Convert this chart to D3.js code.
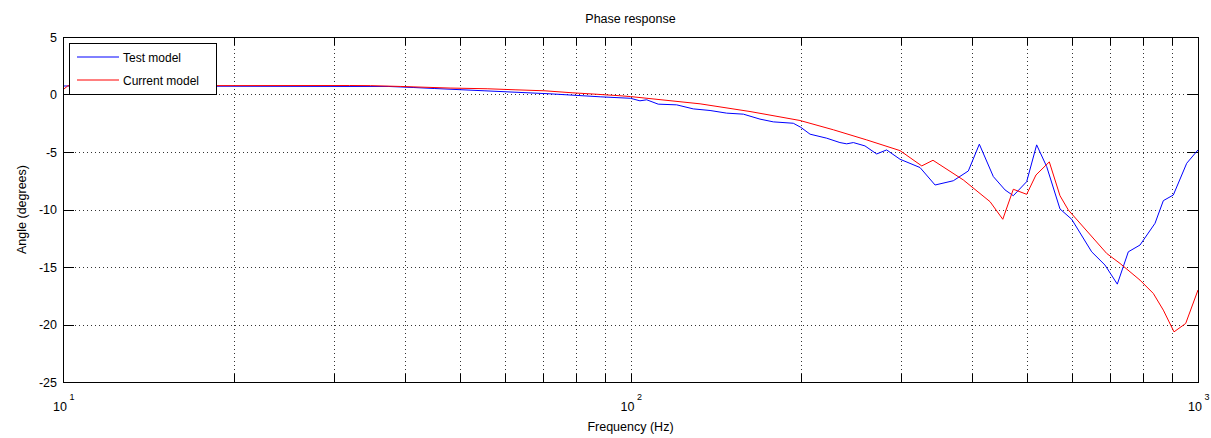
<!DOCTYPE html>
<html>
<head>
<meta charset="utf-8">
<script src="https://cdn.jsdelivr.net/npm/d3@7"></script>
<style>
  body { margin: 0; background: #fff; }
  svg { display: block; font-family: "Liberation Sans", Arial, sans-serif; }
</style>
</head>
<body>
<div id="chart"></div>
<script>
// frequencies (Hz) and phase (degrees)
const testFreq = [10, 32.7, 37.4, 41.4, 45.2, 55.4, 72.1, 88.4, 100, 103.9, 106.8, 111.9, 120.6, 129, 138.1, 147.7, 158.1, 169.1, 178.5, 193.6, 199.5, 207.2, 221.7, 233.9, 240.4, 247, 258.9, 271.5, 282.7, 298.5, 323.7, 344.1, 370.5, 393.8, 411.8, 435.9, 457.1, 472.7, 499, 519.6, 541.2, 571.2, 599, 649.6, 685.6, 720.8, 753.7, 790.3, 840, 868.8, 904.7, 955.2, 1000];
const testPhase = [0.74, 0.70, 0.70, 0.61, 0.52, 0.32, 0.06, -0.2, -0.33, -0.55, -0.46, -0.84, -0.9, -1.25, -1.39, -1.62, -1.71, -2.14, -2.38, -2.5, -2.85, -3.45, -3.8, -4.18, -4.29, -4.18, -4.47, -5.17, -4.82, -5.63, -6.35, -7.87, -7.5, -6.65, -4.32, -7.14, -8.3, -8.8, -7.58, -4.38, -6.27, -9.95, -10.85, -13.68, -14.83, -16.49, -13.68, -13.09, -11.2, -9.23, -8.74, -5.98, -4.82];

const currFreq = [10, 10.2, 32, 34.8, 39.3, 48.1, 55.9, 62.6, 70.7, 78.9, 86.6, 95.8, 100, 132.6, 162.4, 198.9, 227.8, 260.8, 298.5, 326, 341.2, 385.9, 430.1, 452.9, 472.7, 499, 518.2, 547, 571.2, 590.8, 690.4, 728.8, 790.3, 834.2, 868.8, 907.3, 951.3, 1000];
const currPhase = [0.41, 0.76, 0.78, 0.77, 0.70, 0.56, 0.5, 0.41, 0.32, 0.15, 0.03, -0.11, -0.18, -0.81, -1.48, -2.26, -3.07, -3.95, -4.88, -6.21, -5.72, -7.43, -9.32, -10.85, -8.24, -8.68, -7.0, -5.86, -8.8, -10.04, -13.82, -14.69, -16.14, -17.3, -18.75, -20.64, -19.91, -17.0];

const yTicks = [-25, -20, -15, -10, -5, 0, 5];
const xDecades = [10, 100, 1000];
const seriesNames = ['Test model', 'Current model'];
const seriesColors = ['#0000ff', '#ff0000'];

const W = 1211, H = 438;
const L = 63, R = 1198, T = 37, B = 382;
const fs = 12;

const svg = d3.select('#chart').append('svg').attr('width', W).attr('height', H);

const x = d3.scaleLog().domain([10, 1000]).range([L, R]);
const y = d3.scaleLinear().domain([-25, 5]).range([B, T]);

// minor grid positions for log axis
const xGrid = [];
for (let d = 10; d < 1000; d *= 10) {
    for (let k = 1; k < 10; k++) xGrid.push(d * k);
}
xGrid.push(1000);

const grid = svg.append('g').attr('class', 'grid')
    .attr('stroke', '#333').attr('stroke-width', 1)
    .attr('stroke-dasharray', '1,3').attr('shape-rendering', 'crispEdges');

grid.selectAll('line.vx')
    .data(xGrid.filter(v => v > 10 && v < 1000))
    .enter().append('line')
    .attr('class', 'vx')
    .attr('x1', d => Math.round(x(d)) + 0.5).attr('x2', d => Math.round(x(d)) + 0.5)
    .attr('y1', T).attr('y2', B);

grid.selectAll('line.hy')
    .data(yTicks.filter(v => v > -25 && v < 5))
    .enter().append('line')
    .attr('class', 'hy')
    .attr('y1', d => Math.round(y(d)) + 0.5).attr('y2', d => Math.round(y(d)) + 0.5)
    .attr('x1', L).attr('x2', R);

// ticks (inside)
const ticks = svg.append('g').attr('stroke', '#000').attr('shape-rendering', 'crispEdges');
xGrid.forEach(v => {
    const px = Math.round(x(v)) + 0.5;
    ticks.append('line').attr('x1', px).attr('x2', px).attr('y1', B).attr('y2', B - 8);
    ticks.append('line').attr('x1', px).attr('x2', px).attr('y1', T).attr('y2', T + 8);
});
yTicks.forEach(v => {
    const py = Math.round(y(v)) + 0.5;
    ticks.append('line').attr('x1', L).attr('x2', L + 11).attr('y1', py).attr('y2', py);
    ticks.append('line').attr('x1', R).attr('x2', R - 11).attr('y1', py).attr('y2', py);
});

// data lines
const line = d3.line().x(d => x(d[0])).y(d => y(d[1]));
const testData = testFreq.map((f, i) => [f, testPhase[i]]);
const currData = currFreq.map((f, i) => [f, currPhase[i]]);

svg.append('path').attr('fill', 'none').attr('stroke', seriesColors[0])
    .attr('stroke-width', 1).attr('d', line(testData));
svg.append('path').attr('fill', 'none').attr('stroke', seriesColors[1])
    .attr('stroke-width', 1).attr('d', line(currData));

// box
svg.append('rect').attr('x', L + 0.5).attr('y', T + 0.5)
    .attr('width', R - L).attr('height', B - T)
    .attr('fill', 'none').attr('stroke', '#000').attr('shape-rendering', 'crispEdges');

// y tick labels
svg.selectAll('text.ytl')
    .data(yTicks)
    .enter().append('text')
    .attr('class', 'ytl')
    .attr('x', L - 6).attr('y', d => y(d) + 4.5)
    .attr('text-anchor', 'end').attr('font-size', fs + 0.5)
    .text(d => d);

// x tick labels: 10^n
const xl = svg.selectAll('g.xtl')
    .data(xDecades)
    .enter().append('g')
    .attr('class', 'xtl')
    .attr('transform', d => 'translate(' + x(d) + ',0)');
xl.append('text').attr('x', -3).attr('y', 411).attr('text-anchor', 'middle')
    .attr('font-size', fs + 0.5).text('10');
xl.append('text').attr('x', 9).attr('y', 400).attr('text-anchor', 'middle')
    .attr('font-size', 9).text(d => Math.round(Math.log10(d)));

// title and axis labels
svg.append('text').attr('x', (L + R) / 2).attr('y', 23).attr('text-anchor', 'middle')
    .attr('font-size', fs + 0.5).text('Phase response');
svg.append('text').attr('x', (L + R) / 2).attr('y', 431).attr('text-anchor', 'middle')
    .attr('font-size', fs + 0.5).text('Frequency (Hz)');
svg.append('text').attr('transform', 'translate(26,' + (T + B) / 2 + ') rotate(-90)')
    .attr('text-anchor', 'middle').attr('font-size', fs + 0.5).text('Angle (degrees)');

// legend
const leg = svg.append('g');
leg.append('rect').attr('x', 69.5).attr('y', 43.5).attr('width', 147).attr('height', 51)
    .attr('fill', '#fff').attr('stroke', '#000').attr('shape-rendering', 'crispEdges');
seriesNames.forEach((name, i) => {
    const ly = 57 + i * 23;
    leg.append('line').attr('x1', 77).attr('x2', 119).attr('y1', ly).attr('y2', ly)
        .attr('stroke', seriesColors[i]).attr('stroke-width', 1);
    leg.append('text').attr('x', 123).attr('y', ly + 5).attr('font-size', fs).text(name);
});
</script>
</body>
</html>
